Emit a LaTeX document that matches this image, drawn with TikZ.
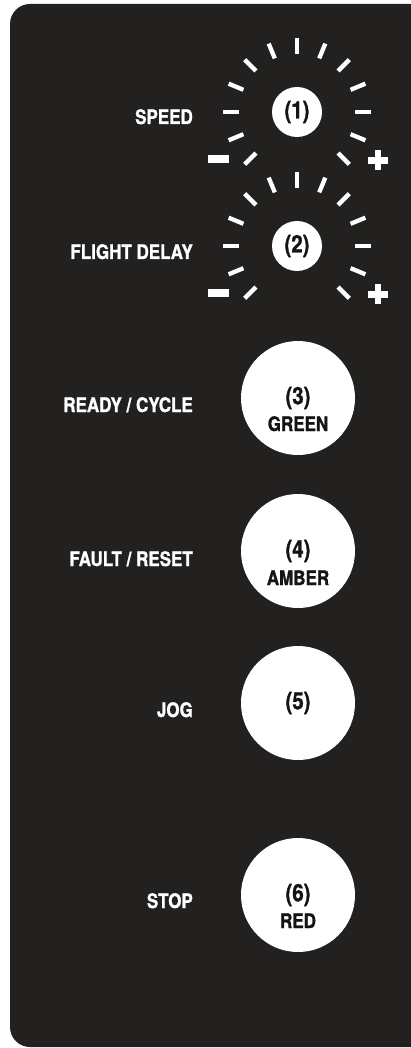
\documentclass[tikz,border=0pt]{standalone}
\usepackage{fontspec}
\setmainfont{TeX Gyre Heros}[FakeStretch=0.85,BoldFeatures={FakeBold=1.2}]
\usepackage{tikz}
\usetikzlibrary{calc}
\definecolor{panel}{RGB}{35,33,31}
\definecolor{ink}{RGB}{20,20,20}

\begin{document}
\begin{tikzpicture}[x=1pt,y=1pt,
  lbl/.style={anchor=base east,text=white,font=\fontsize{20}{24}\selectfont\bfseries,inner sep=0},
  knob/.style={circle,fill=white,minimum size=50,inner sep=0,text=ink,font=\fontsize{24}{28}\selectfont\bfseries},
  button/.style={circle,fill=white,minimum size=114,inner sep=0,text=ink,font=\fontsize{24}{28}\selectfont\bfseries},
  colname/.style={anchor=base,text=ink,font=\fontsize{20}{24}\selectfont\bfseries,inner sep=0},
  tick/.style={white,line width=4.3}]
\useasboundingbox (0,0) rectangle (411,-1048);
\fill[panel,rounded corners=20] (10,-4) rectangle (440,-1047);
% knobs with scale ticks
\node[knob] (k1) at (297,-112) {(1)}; \node[lbl] (speed) at (193,-124) {SPEED};
\node[knob] (k2) at (297,-246) {(2)}; \node[lbl] (delay) at (193,-259) {FLIGHT DELAY};
\foreach \k in {k1,k2}{
  \foreach \a in {-45,-22.5,...,225} \draw[tick] (\k.center) ++(\a:58) -- ++(\a:16);
  \fill[white] ($(\k.center)+(-89,-43.3)$) rectangle ++(21,-7.5);
  \fill[white] ($(\k.center)+(71,-45)$) rectangle ++(20,-6.6);
  \fill[white] ($(\k.center)+(77.7,-38.3)$) rectangle ++(6.6,-20);
}
% push buttons
\node[button] (b3) at (298,-398) {(3)}; \node[colname] (green) at ($(b3.center)+(0,-33)$) {GREEN};
\node[lbl] (ready) at (193,-412) {READY / CYCLE};
\node[button] (b4) at (298,-551) {(4)}; \node[colname] (amber) at ($(b4.center)+(0,-34)$) {AMBER};
\node[lbl] (fault) at (193,-566) {FAULT / RESET};
\node[button] (b5) at (298,-703) {(5)};
\node[lbl] (jog) at (193,-717) {JOG};
\node[button] (b6) at (298,-895) {(6)}; \node[colname] (red) at ($(b6.center)+(0,-33)$) {RED};
\node[lbl] (stop) at (193,-908) {STOP};
\end{tikzpicture}
\end{document}
